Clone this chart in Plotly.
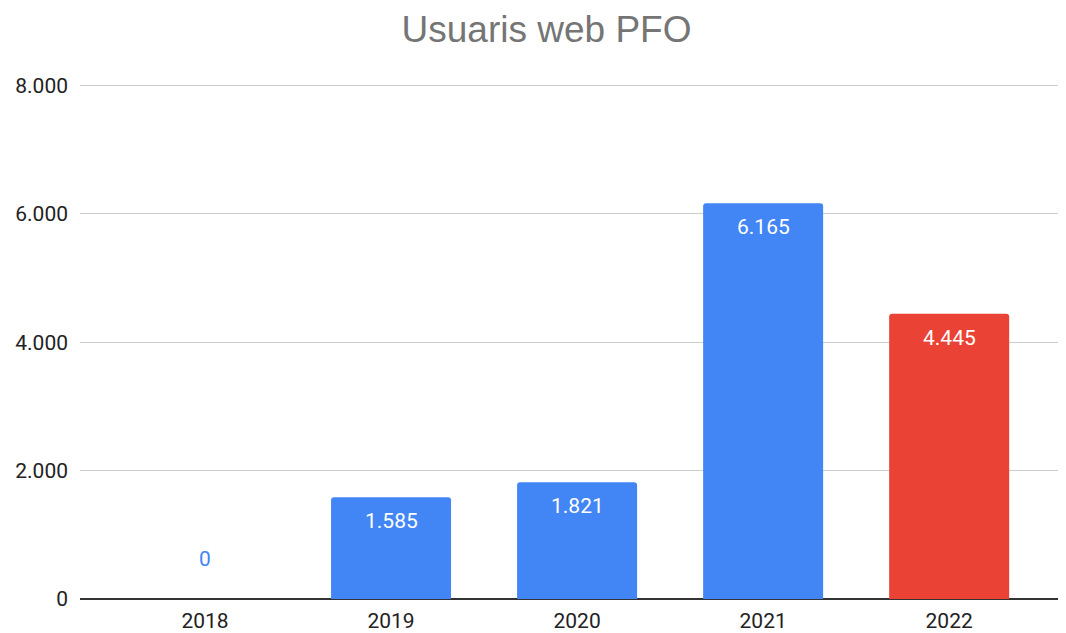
import plotly.graph_objects as go

years = ["2018", "2019", "2020", "2021", "2022"]
users = [0, 1585, 1821, 6165, 4445]
bar_colors = ["#4285F4", "#4285F4", "#4285F4", "#4285F4", "#EA4335"]
y_ticks = [0, 2000, 4000, 6000, 8000]

x_idx = list(range(len(years)))

def fmt(v):
    return f"{v:,}".replace(",", ".")

fig = go.Figure()
fig.add_trace(go.Bar(
    x=x_idx, y=users,
    marker=dict(color=bar_colors, line=dict(width=0)),
    width=0.645,
    hoverinfo="skip",
))

for i, v in enumerate(users):
    if v == 0:
        fig.add_annotation(x=i, y=v, text=fmt(v), showarrow=False, yshift=40,
                           yanchor="middle",
                           font=dict(family="Roboto", size=21, color="#4285F4"))
    else:
        fig.add_annotation(x=i, y=v, text=fmt(v), showarrow=False, yshift=-10,
                           yanchor="top",
                           font=dict(family="Roboto", size=21, color="white"))

fig.update_layout(
    width=1058, height=625,
    paper_bgcolor="white", plot_bgcolor="white",
    separators=",.",
    margin=dict(l=72, r=0, t=75, b=31),
    title=dict(text="Usuaris web PFO", x=0.509, xanchor="center",
               y=0.966, yanchor="middle",
               font=dict(family="Arial, Liberation Sans", size=37, color="#757575")),
    barcornerradius=3,
    showlegend=False,
    xaxis=dict(tickmode="array", tickvals=x_idx, ticktext=years, range=[-0.672, 4.628],
               showgrid=False, showline=False, zeroline=False, ticks="",
               tickfont=dict(family="Roboto", size=21, color="#222222"), ticklabelstandoff=7),
    yaxis=dict(range=[0, 8040], tickvals=y_ticks, tickformat=",d",
               showgrid=True, gridcolor="#CCCCCC", gridwidth=1,
               zeroline=True, zerolinecolor="#333333", zerolinewidth=2,
               showline=False, ticks="",
               tickfont=dict(family="Roboto", size=21, color="#222222"), ticklabelstandoff=11),
)

fig.write_html("out.html")
